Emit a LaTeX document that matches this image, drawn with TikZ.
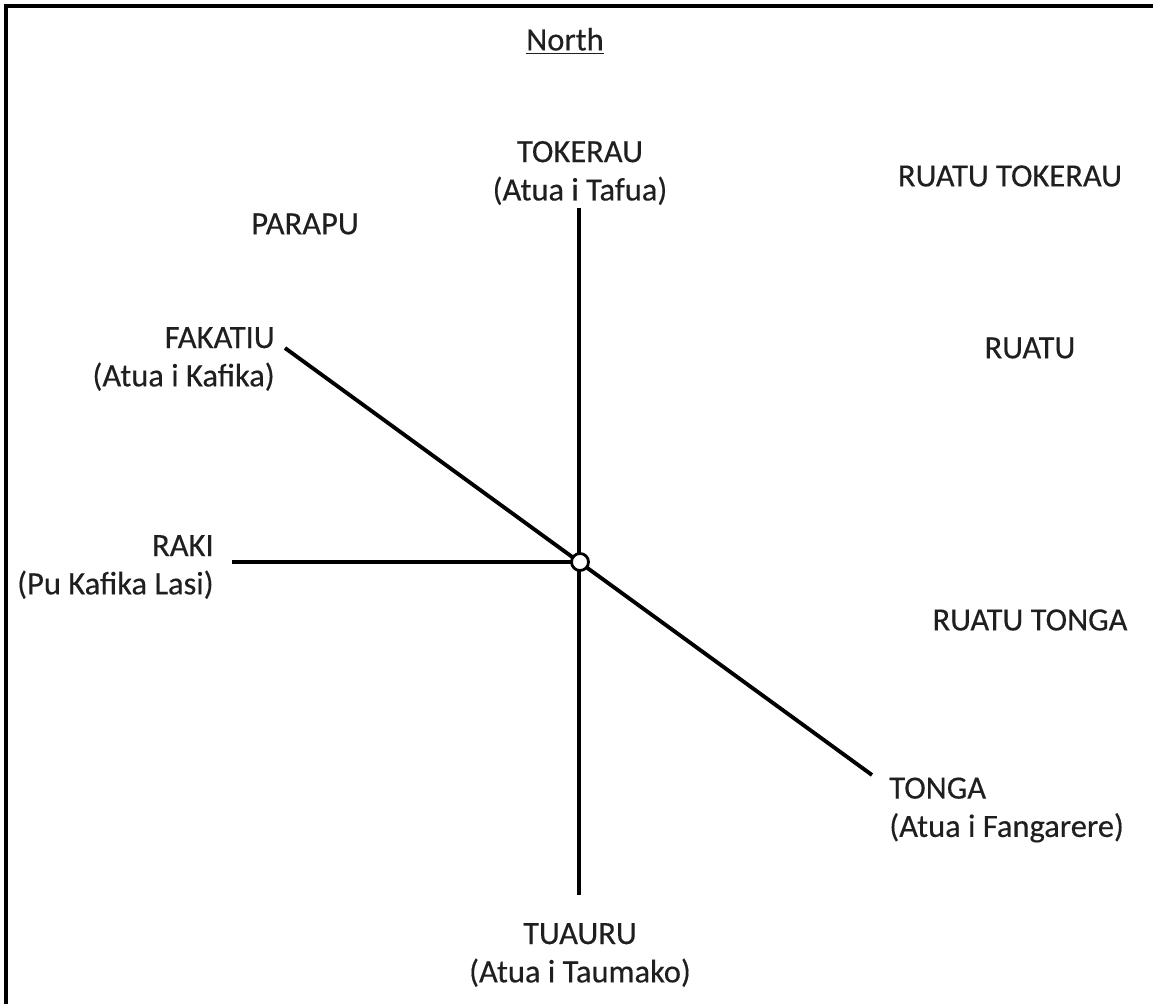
\documentclass[tikz,border=0pt]{standalone}
\usepackage{fontspec}
\setmainfont{Carlito}[FakeBold=0.6]
\begin{document}
\begin{tikzpicture}[x=0.02cm,y=-0.02cm,
  lbl/.style={font=\fontsize{18.5}{21.8}\selectfont\addfontfeature{FakeBold=0.35}, text=black!88, inner sep=0pt, align=center},
  lblL/.style={lbl, align=right, anchor=east},
  lblR/.style={lbl, align=left, anchor=west},
  axis/.style={line width=2.2pt, black},
  frame/.style={line width=1.8pt, black}]
  \useasboundingbox (0,0) rectangle (1153,1004);
  % frame along the left and top edges
  \draw[frame] (6,1004) -- (6,6) -- (1153,6);

  % centre hub and the ends of the lines
  \coordinate (c) at (580,562);
  \coordinate (nEnd) at (579,208);
  \coordinate (sEnd) at (579,895);
  \coordinate (wEnd) at (232,562);
  \coordinate (nwEnd) at (285,348);
  \coordinate (seEnd) at (872,775);

  \draw[axis] (nEnd) -- (sEnd);
  \draw[axis] (wEnd) -- (c);
  \draw[axis] (nwEnd) -- (seEnd);
  \node[circle, draw, line width=1.6pt, fill=white, minimum size=0.34cm, inner sep=0pt] (hub) at (c) {};

  % labels
  \node[lbl] (north) at (565,41) {\underline{North}};
  \node[lbl] (tokerau) at (580,173) {TOKERAU\\(Atua i Tafua)};
  \node[lbl] (ruatutokerau) at (1010,176) {RUATU TOKERAU};
  \node[lbl] (parapu) at (305,224) {PARAPU};
  \node[lblL] (fakatiu) at (275,359) {FAKATIU\\(Atua i Kafika)};
  \node[lbl] (ruatu) at (1030,348) {RUATU};
  \node[lblL] (raki) at (214,567) {RAKI\\(Pu Kafika Lasi)};
  \node[lbl] (ruatutonga) at (1030,620) {RUATU TONGA};
  \node[lblR] (tonga) at (889,810) {TONGA\\(Atua i Fangarere)};
  \node[lbl] (tuauru) at (580,955) {TUAURU\\(Atua i Taumako)};
\end{tikzpicture}
\end{document}
